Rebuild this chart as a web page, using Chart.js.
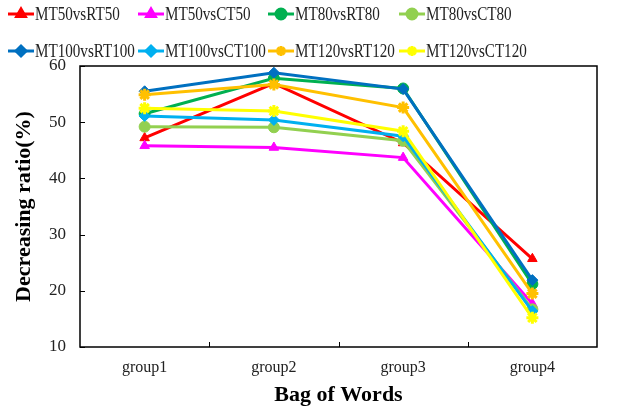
<!DOCTYPE html>
<html>
<head>
<meta charset="utf-8">
<script src="https://cdn.jsdelivr.net/npm/chart.js@4.4.1/dist/chart.umd.min.js"></script>
<style>
  html, body { margin: 0; padding: 0; background: #fff; }
  #wrap { width: 618px; height: 413px; }
</style>
</head>
<body>
<div id="wrap"><canvas id="bowChart" width="618" height="413"></canvas></div>
<script>
var groups = ['group1', 'group2', 'group3', 'group4'];
var yTicks = [10, 20, 30, 40, 50, 60];

var mt50vsRT50 = [47.2, 56.9, 46.3, 25.7];
var mt50vsCT50 = [45.8, 45.5, 43.7, 17.7];
var mt80vsRT80 = [51.5, 57.8, 56.0, 21.2];
var mt80vsCT80 = [49.2, 49.1, 46.7, 16.7];
var mt100vsRT100 = [55.5, 58.8, 55.9, 21.9];
var mt100vsCT100 = [51.1, 50.4, 47.5, 16.4];
var mt120vsRT120 = [54.9, 56.7, 52.6, 19.5];
var mt120vsCT120 = [52.5, 52.0, 48.4, 15.2];

var series = [
    { label: 'MT50vsRT50', data: mt50vsRT50, color: '#FF0000', marker: 'triangle' },
    { label: 'MT50vsCT50', data: mt50vsCT50, color: '#FF00FF', marker: 'triangle' },
    { label: 'MT80vsRT80', data: mt80vsRT80, color: '#00B050', marker: 'circle' },
    { label: 'MT80vsCT80', data: mt80vsCT80, color: '#92D050', marker: 'circle' },
    { label: 'MT100vsRT100', data: mt100vsRT100, color: '#0070C0', marker: 'rectRot' },
    { label: 'MT100vsCT100', data: mt100vsCT100, color: '#00B0F0', marker: 'rectRot' },
    { label: 'MT120vsRT120', data: mt120vsRT120, color: '#FFC000', marker: 'star' },
    { label: 'MT120vsCT120', data: mt120vsCT120, color: '#FFFF00', marker: 'star' }
];

var serif = "'Liberation Serif', 'Times New Roman', serif";

// legende dessinee a la main (ligne + marqueur, 4 colonnes)
var legendPlugin = {
    id: 'bowLegend',
    afterDraw: function (chart) {
        var c = chart.ctx;
        var colX = [8, 138, 268, 399];
        var rowY = [14, 51];
        c.save();
        series.forEach(function (s, i) {
            var x = colX[i % 4];
            var y = rowY[Math.floor(i / 4)];
            c.strokeStyle = s.color;
            c.fillStyle = s.color;
            c.lineWidth = 3;
            c.beginPath();
            c.moveTo(x, y);
            c.lineTo(x + 26, y);
            c.stroke();
            Chart.helpers.drawPoint(c, {
                pointStyle: s.marker, radius: 5, rotation: 0, borderWidth: s.marker === 'star' ? 3 : 1
            }, x + 13, y);
            if (s.marker !== 'star') c.fill();
            // texte un peu compresse en largeur comme sur l'original
            c.save();
            c.translate(x + 27, y + 1);
            c.scale(0.84, 1);
            c.fillStyle = '#222';
            c.font = '18px ' + serif;
            c.textAlign = 'left';
            c.textBaseline = 'middle';
            c.fillText(s.label, 0, 0);
            c.restore();
        });
        c.restore();
    }
};

// cadre + graduations vers l'interieur
var framePlugin = {
    id: 'frame',
    afterDatasetsDraw: function (chart) {
        var a = chart.chartArea;
        var c = chart.ctx;
        var xs = chart.scales.x, ys = chart.scales.y;
        c.save();
        c.strokeStyle = '#000';
        c.lineWidth = 1.5;
        c.strokeRect(a.left, a.top, a.right - a.left, a.bottom - a.top);
        c.lineWidth = 1;
        yTicks.forEach(function (v) {
            var py = Math.round(ys.getPixelForValue(v)) + 0.5;
            c.beginPath();
            c.moveTo(a.left, py);
            c.lineTo(a.left + 5, py);
            c.stroke();
        });
        for (var i = 1; i < groups.length; i++) {
            var px = Math.round((xs.getPixelForValue(i - 1) + xs.getPixelForValue(i)) / 2) + 0.5;
            c.beginPath();
            c.moveTo(px, a.bottom);
            c.lineTo(px, a.bottom - 5);
            c.stroke();
        }
        c.restore();
    }
};

var ctx = document.getElementById('bowChart').getContext('2d');

var myChart = new Chart(ctx, {
    type: 'line',
    data: {
        labels: groups,
        datasets: series.map(function (s) {
            return {
                label: s.label,
                data: s.data,
                borderColor: s.color,
                backgroundColor: s.color,
                borderWidth: 3,
                pointStyle: s.marker,
                pointRadius: s.marker === 'star' ? 6 : 5.5,
                pointBorderWidth: s.marker === 'star' ? 3 : 1,
                pointBorderColor: s.color,
                pointBackgroundColor: s.color,
                lineTension: 0,
                fill: false
            };
        }).reverse()
    },
    options: {
        responsive: false,
        animation: false,
        devicePixelRatio: 1,
        layout: { padding: { top: 66, right: 21, left: 0, bottom: 0 } },
        plugins: {
            legend: { display: false },
            tooltip: { enabled: false }
        },
        scales: {
            x: {
                offset: true,
                grid: { display: false },
                border: { display: false },
                ticks: {
                    color: '#222',
                    font: { family: serif, size: 16 },
                    padding: 3
                },
                title: {
                    display: true,
                    text: 'Bag of Words',
                    color: '#000',
                    font: { family: serif, size: 22, weight: 'bold' },
                    padding: { top: 0, bottom: 4 }
                },
                afterFit: function (scale) { scale.height = 66; }
            },
            y: {
                min: 10,
                max: 60,
                grid: { display: false },
                border: { display: false },
                ticks: {
                    stepSize: 10,
                    color: '#222',
                    font: { family: serif, size: 17 },
                    padding: 6
                },
                title: {
                    display: true,
                    text: 'Decreasing ratio(%)',
                    color: '#000',
                    font: { family: serif, size: 22, weight: 'bold' },
                    padding: { top: 11, bottom: 0 }
                },
                afterFit: function (scale) { scale.width = 80; }
            }
        }
    },
    plugins: [framePlugin, legendPlugin]
});
</script>
</body>
</html>
